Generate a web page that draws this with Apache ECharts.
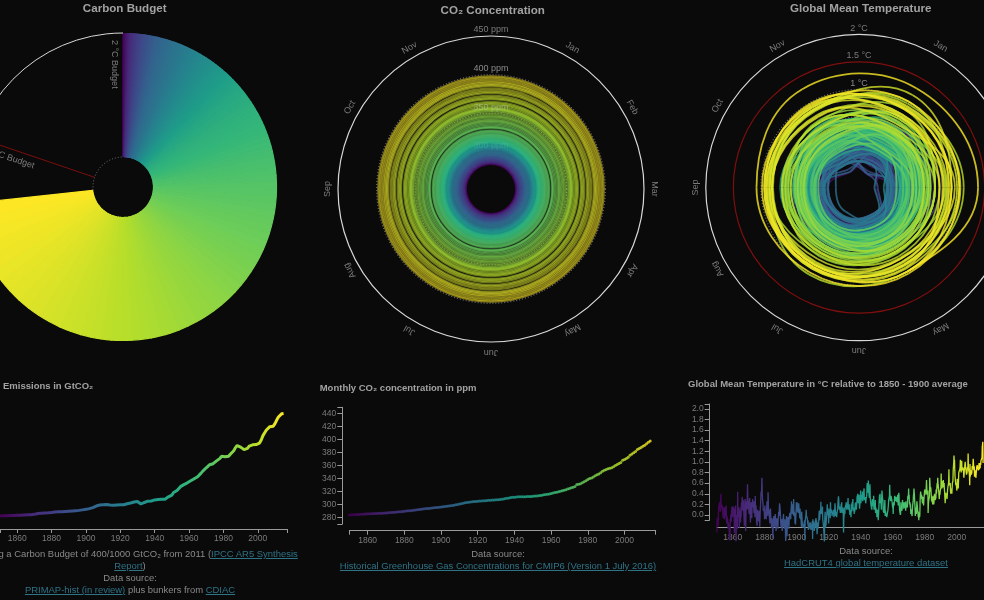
<!DOCTYPE html>
<html>
<head>
<meta charset="utf-8">
<title>Climate spirals</title>
<script src="https://cdn.jsdelivr.net/npm/echarts@6/dist/echarts.min.js"></script>
<style>
html, body { margin: 0; background: #0a0a0a; overflow: hidden; }
#chart { position: absolute; left: 0; top: 0; width: 984px; height: 600px; }
.caption { position: absolute; transform: translateX(-50%); white-space: nowrap; text-align: center;
  font: 9.46px/12px "Liberation Sans", Arial, sans-serif; color: #8a8a8a; }
.caption a { color: #2f7387; text-decoration: underline; }
</style>
</head>
<body>
<div id="chart"></div>
<div class="caption" style="left:130px;top:548px">Assuming a Carbon Budget of 400/1000 GtCO₂ from 2011 (<a>IPCC AR5 Synthesis</a><br><a>Report</a>)<br>Data source:<br><a>PRIMAP-hist (in review)</a> plus bunkers from <a>CDIAC</a></div>
<div class="caption" style="left:498px;top:548px">Data source:<br><a>Historical Greenhouse Gas Concentrations for CMIP6 (Version 1 July 2016)</a></div>
<div class="caption" style="left:866px;top:545px">Data source:<br><a>HadCRUT4 global temperature dataset</a></div>
<script>
const months = ['Jan', 'Feb', 'Mar', 'Apr', 'May', 'Jun', 'Jul', 'Aug', 'Sep', 'Oct', 'Nov'];
const viridis = ['#440154', '#482878', '#3e4989', '#31688e', '#26828e', '#1f9e89', '#35b779', '#6ece58', '#b5de2b', '#fde725'];

// Emissions in GtCO2, one value per year from 1850
const emissions = [
  .8, .8, .9, .9, .9, 1, 1, 1, 1, 1,
  1.05, 1.1, 1.1, 1.15, 1.2, 1.25, 1.25, 1.3, 1.3, 1.4,
  1.45, 1.6, 1.8, 1.9, 1.9, 1.95, 2, 2, 2.05, 2.1,
  2.2, 2.3, 2.4, 2.4, 2.5, 2.5, 2.5, 2.55, 2.6, 2.6,
  2.7, 2.8, 2.8, 2.8, 2.9, 3, 3, 3.1, 3.2, 3.3,
  3.4, 3.6, 3.7, 4, 4.1, 4.4, 4.7, 5.1, 5.1, 5.2,
  5.2, 5.3, 5.3, 5.4, 5.1, 5, 5, 5.2, 5.1, 5,
  5.2, 5, 5.2, 5.6, 5.6, 5.9, 5.9, 6.1, 6.3, 6.8,
  6.5, 5.9, 5.5, 5.7, 6.1, 6.4, 6.6, 6.8, 6.7, 7,
  7.1, 7.2, 7.3, 7.5, 7.4, 6.9, 7.4, 8, 8.3, 8.6,
  9, 10, 10.2, 10.8, 11.1, 12.3, 12.8, 13.1, 13.4, 13.8,
  14, 14.6, 15, 15.4, 15.8, 16.2, 16.9, 17.6, 18.4, 19.1,
  19.7, 20.4, 20.9, 21.2, 21.3, 21.4, 22.4, 23, 23.4, 24.2,
  24.3, 24, 23.7, 24.2, 25, 25.7, 26.4, 27.6, 28.4, 28.1,
  27.8, 27.4, 26.8, 26.9, 27.3, 28.2, 28.4, 28.7, 28.7, 28.8,
  29, 29.4, 30.6, 32.3, 33.4, 34.5, 35.2, 35.8, 36.3, 36,
  37, 38.4, 39.6, 40.3, 40.9, 41
];
const budget2C = 2715;
const budget15C = 2178;

// CO2 in ppm, one value per year from 1850
const co2 = [
  284.3, 284.5, 284.6, 284.7, 284.9, 285, 285.2, 285.4, 285.6, 285.7,
  285.9, 286, 286.2, 286.3, 286.5, 286.6, 286.7, 286.9, 287, 287.2,
  287.4, 287.6, 287.8, 288, 288.2, 288.5, 288.8, 289, 289.3, 289.6,
  289.9, 290.2, 290.5, 290.8, 291.1, 291.4, 291.8, 292.1, 292.5, 292.9,
  293.3, 293.6, 294, 294.3, 294.6, 294.9, 295.2, 295.5, 295.8, 296.1,
  296.4, 296.7, 297.1, 297.5, 297.9, 298.4, 298.8, 299.3, 299.8, 300.4,
  301, 301.6, 302.2, 302.8, 303.3, 303.8, 304.2, 304.5, 304.8, 305.1,
  305.4, 305.6, 305.8, 306, 306.2, 306.5, 306.7, 306.9, 307.1, 307.3,
  307.5, 307.7, 308, 308.4, 308.9, 309.4, 309.9, 310.4, 310.9, 311.3,
  311.6, 311.9, 312.1, 312.3, 312.4, 312.4, 312.4, 312.5, 312.6, 312.7,
  312.9, 313.2, 313.5, 313.9, 314.3, 314.7, 315.1, 315.5, 316, 316.6,
  317.3, 318, 318.6, 319.3, 320, 320.7, 321.4, 322.2, 323, 324,
  325, 326, 327, 327.9, 331, 331.5, 332.2, 333.8, 335.4, 337,
  338.8, 340.1, 341.1, 342.7, 344.4, 345.9, 347.2, 349.1, 351.4, 352.9,
  354.2, 355.3, 356, 356.9, 358.5, 360.4, 362, 363.3, 364.8, 368.3,
  369.6, 371.2, 373, 376.2, 377.8, 379.7, 382, 385, 386.6, 388,
  389.8, 391.6, 393.8, 396, 398
];

// Temperature in °C: Jan, Mar, May, Jul, Sep, Nov of each year from 1850
const temperature = [
  -.33, -.05, -.1, -.12, -.06, -.2, .04, .18, .12, .2, .24, .14,
  .12, .06, .28, .4, .22, .24, .24, .14, .1, .18, .06, -.02,
  -.06, .12, .04, .14, .02, -.08, .08, .02, .15, -.02, .05, .18,
  -.1, -.16, -.02, -.14, -.06, -.12, -.26, -.14, -.24, -.18, -.22, -.46,
  -.22, -.48, -.08, -.14, -.04, .02, -.12, .06, .04, .16, -.02, .12,
  -.04, .1, .16, -.02, .12, -.1, -.34, .02, -.1, .1, .18, -.06,
  -.5, -.24, 0, -.06, -.12, -.26, .44, .08, .02, .12, -.04, .14,
  -.24, -.12, 0, .08, .02, -.14, .14, -.04, .18, .24, .18, .34,
  .3, .08, .12, .28, .16, .06, -.08, -.2, .12, .24, .3, .14,
  -.3, -.04, .26, .2, .14, .1, .32, .58, .34, .2, .12, .26,
  .1, .02, .26, .32, .14, 0, -.14, .22, .18, .24, .1, -.06,
  .2, .16, .3, .28, .22, .14, .18, .04, .12, .26, .1, -.04,
  .36, .06, .1, .18, .02, -.14, -.14, -.2, .02, .1, -.02, -.1,
  -.02, -.12, .04, .08, .02, -.22, -.04, .12, .2, .34, .44, .36,
  .5, .7, .42, .3, .26, .2, .08, .06, .12, .1, .04, -.08,
  .18, .04, .06, .02, .04, -.08, .06, .14, .26, .16, .08, -.02,
  .43, .24, .02, .04, .1, -.04, -.08, -.16, .02, .12, -.02, 0,
  -.12, -.24, -.18, -.06, -.08, -.26, -.44, -.18, -.12, -.06, -.02, -.1,
  -.22, -.14, -.06, .02, -.08, -.12, -.3, -.18, -.14, -.06, -.14, -.08,
  -.2, -.26, -.08, 0, .06, -.02, .06, .22, .18, .12, .06, -.1,
  -.08, -.24, -.12, -.08, -.14, -.3, -.12, -.2, -.08, -.04, .02, -.22,
  -.18, -.26, -.14, -.08, -.06, -.3, -.49, -.44, -.16, -.02, -.06, -.4,
  -.24, -.08, -.1, -.04, -.02, -.1, -.26, -.12, -.02, 0, .04, .02,
  .02, -.08, .08, .14, .26, .12, .1, .02, .16, .2, .1, 0,
  .3, -.02, -.04, .06, .02, -.16, 0, -.18, -.04, .04, .24, .22,
  .06, .24, .16, .18, .14, .04, .14, .22, .12, .1, .02, -.06,
  .12, -.02, -.08, -.04, -.12, -.22, .06, -.04, -.14, -.16, -.2, -.24,
  -.24, -.26, -.2, -.18, -.22, -.1, -.48, -.12, -.14, -.04, 0, .1,
  -.02, -.04, -.02, -.06, -.08, -.18, -.1, -.28, -.24, -.2, -.22, -.24,
  -.14, -.26, -.18, -.14, -.16, -.28, -.3, -.2, -.24, -.18, -.12, -.45,
  -.08, -.16, -.14, -.12, -.16, -.3, -.32, -.28, -.22, -.18, -.1, -.12,
  -.06, -.24, -.1, -.28, -.36, -.22, -.14, -.26, -.2, -.16, -.12, .02,
  .08, -.1, -.04, .02, .1, .04, .25, .02, .12, .1, .06, .02,
  .16, -.08, -.12, -.16, -.14, -.3, -.3, -.5, -.2, -.02, .06, -.24,
  -.12, -.2, -.12, -.06, 0, .02, .2, 0, .06, .02, .08, -.16,
  .12, .1, -.02, .02, .06, -.06, .24, .04, .06, .1, .12, .06,
  -.02, .02, 0, .06, .02, .1, .04, -.04, -.02, .02, .12, .22,
  .1, -.02, .06, .02, .06, -.04, -.06, .06, .08, .12, .14, .3,
  .35, .28, .14, .1, .16, .14, .1, .04, .06, .12, .2, .06,
  .24, .04, .06, .1, .08, .14, 0, -.33, -.06, -.02, .08, .14,
  .02, .14, .12, .14, .2, .24, .22, .1, .14, .2, .16, .18,
  .32, .1, .18, .12, .2, .1, .12, 0, .04, .1, .02, -.04,
  .2, .06, .08, .24, .16, .22, .3, .08, .1, .14, .12, .02,
  .12, .06, .14, .22, .18, .24, .14, .1, .18, .26, .36, .3,
  .4, .34, .22, .24, .34, .38, .24, .12, .2, .22, .28, .46,
  .22, .32, .3, .28, .38, .3, .44, .26, .34, .38, .3, .46,
  .5, .28, .32, .3, .28, .34, .22, .28, .26, .34, .38, .56,
  .6, .46, .42, .5, .65, .48, .46, .36, .32, .36, .58, .34,
  .36, .22, .18, .16, .18, .1, .24, .3, .2, .26, .22, .16,
  .36, .1, .22, .18, .2, .1, .28, .04, .14, .12, .16, .06,
  -.04, .04, .1, .12, .06, -.1, -.08, .08, .22, .3, .38, .32,
  .4, .22, .2, .26, .28, .1, .34, .46, .38, .32, .3, .26,
  .06, .12, .04, .08, .06, .18, .28, -.02, .08, .1, .06, -.02,
  .02, -.04, -.02, .02, 0, .08, .1, .18, .28, .28, .32, .36,
  .57, .38, .3, .26, .28, .36, .38, .34, .28, .24, .22, .14,
  .22, .02, .2, .22, .24, .18, .32, .36, .34, .3, .28, .26,
  .34, .32, .28, .24, .26, .3, .38, .36, .18, .28, .42, .36,
  .18, .1, .06, .08, 0, .04, .24, .12, .12, .08, .1, .12,
  .28, .22, .16, .24, .2, .12, .2, .14, .24, .22, .18, .22,
  .08, .26, .14, .16, .18, .2, .14, .26, .36, .3, .36, .5,
  .32, .38, .2, .22, .24, .14, .2, .02, .1, .06, .08, .08,
  -.02, .1, .18, .22, .26, .36, .4, .5, .42, .34, .32, .12,
  -.02, .08, .1, .14, .02, .04, .26, .2, .2, .08, .04, -.04,
  .06, -.1, -.02, .02, -.04, 0, .26, .38, .44, .4, .34, .38,
  .3, .36, .26, .22, .2, .34, .3, .18, .28, .28, .4, .48,
  .42, .4, .48, .44, .38, .54, .66, .52, .4, .46, .38, .46,
  .04, .2, .26, .28, .32, .36, .7, .6, .48, .44, .52, .5,
  .36, .26, .34, .24, .28, .2, .36, .2, .26, .2, .24, .22,
  .4, .32, .28, .3, .28, .32, .48, .4, .44, .54, .6, .5,
  .7, .6, .56, .5, .5, .36, .3, .44, .38, .44, .46, .42,
  .52, .78, .56, .54, .5, .64, .62, .52, .6, .66, .56, .52,
  .6, .48, .42, .3, .22, .24, .42, .4, .38, .36, .34, .3,
  .38, .48, .52, .5, .54, .62, .86, .6, .56, .58, .56, .6,
  .44, .4, .5, .48, .46, .4, .4, .6, .58, .64, .84, .84,
  .98, 1.12, .98, 1.04, .84, .72, .74, .6, .56, .6, .62, .6,
  .46, .68, .66, .6, .62, .5, .66, .8, .78, .8, .78, .86,
  .92, 1.04, .86, .84, .8, .82, 1.02, .84, .86, .84, .9, .84,
  .88, .9, .7, .72, .86, .9, .9, 1, .92, .92, .94, .9,
  .76, .82, .78, .9, .88, .86, 1.16, .9, .84, .82, .8, .74,
  .56, .96, .72, .78, .8, .84, .76, .74, .8, .92, .9, .86,
  .94, 1.06, .98, .9, .84, .92, .72, .76, .72, .84, .8, .7,
  .7, .68, .9, .88, .94, .96, .88, .86, .84, .84, .92, .98,
  .86, .9, .98, .88, .98, .94, 1.02, 1.04, 1.02, 1, 1.08, 1.28,
  1.3, 1.38, .98
];

const firstYear = 1850;
const co2Rings = [450, 400, 350, 300];
const co2RingLabels = ['450 ppm', '400 ppm', '350 ppm', '300 ppm'];
const tempRings = [2, 1.5, 1, .5];
const tempRingLabels = ['2 °C', '1.5 °C', '1 °C'];
const yearTicks = [1860, 1880, 1900, 1920, 1940, 1960, 1980, 2000];
const co2Ticks = [280, 300, 320, 340, 360, 380, 400, 420, 440];
const tempTicks = [0, .2, .4, .6, .8, 1, 1.2, 1.4, 1.6, 1.8, 2];

const FONT = '"Liberation Sans", Arial, sans-serif';
const WHITE = '#d8d8d8';
const RED = '#7d0f0f';
const GREY = '#7c7c7c';
const perYear = 6;

// Color for a position between 0 and 1 of the period
function colorAt(t) {
    return echarts.color.lerp(Math.min(1, Math.max(0, t)), viridis);
}

// One ring per value, drawn with the radius axis of the polar
function ringSeries(polarIndex, values, strokes, dashes, z) {
    return {
        type: 'custom',
        coordinateSystem: 'polar',
        polarIndex: polarIndex,
        silent: true,
        z: z,
        encode: { radius: 0, angle: 1 },
        data: values.map(v => [v, 0]),
        renderItem: function (params, api) {
            const c = api.coord([api.value(0), 0]);
            return {
                type: 'circle',
                shape: { cx: params.coordSys.cx, cy: params.coordSys.cy, r: c[2] },
                style: { fill: 'none', stroke: strokes[params.dataIndex], lineWidth: 1.2, lineDash: dashes[params.dataIndex] }
            };
        }
    };
}

// Labels sitting just above the rings, at the top of the circle
function ringLabelSeries(polarIndex, values, labels, fills) {
    return {
        type: 'custom',
        coordinateSystem: 'polar',
        polarIndex: polarIndex,
        silent: true,
        z: 6,
        encode: { radius: 0, angle: 1 },
        data: values.map(v => [v, 0]),
        renderItem: function (params, api) {
            const c = api.coord([api.value(0), 0]);
            return {
                type: 'text',
                x: c[0],
                y: c[1] - 6,
                style: { text: labels[params.dataIndex], fill: fills[params.dataIndex], font: '9px ' + FONT, align: 'center', verticalAlign: 'middle' }
            };
        }
    };
}

// Month names following the outside of the circle
function monthSeries(polarIndex, outer) {
    return {
        type: 'custom',
        coordinateSystem: 'polar',
        polarIndex: polarIndex,
        silent: true,
        z: 6,
        encode: { radius: 0, angle: 1 },
        data: months.map((m, i) => [outer, 30 * (i + 1)]),
        renderItem: function (params, api) {
            const angle = api.value(1);
            const c = api.coord([api.value(0), angle]);
            const k = (c[2] + 10) / c[2];
            return {
                type: 'text',
                x: params.coordSys.cx + (c[0] - params.coordSys.cx) * k,
                y: params.coordSys.cy + (c[1] - params.coordSys.cy) * k,
                rotation: -angle * Math.PI / 180,
                style: { text: months[params.dataIndex], fill: GREY, font: '9px ' + FONT, align: 'center', verticalAlign: 'middle' }
            };
        }
    };
}

const series = [];

// 1. Carbon budget
const emitted = emissions.reduce((a, b) => a + b, 0);
const slices = emissions.map((v, i) => {
    const color = colorAt(i / (emissions.length - 1));
    return { value: v, itemStyle: { color: color, borderColor: color, borderWidth: 1.2 } };
});
slices.push({ value: budget2C - emitted, itemStyle: { color: 'transparent' } });
series.push({
    type: 'pie',
    center: [123, 187],
    radius: [30.5, 153.5],
    startAngle: 90,
    silent: true,
    label: { show: false },
    labelLine: { show: false },
    data: slices
});

// Budget arcs left of the wedge: outer limit and dotted inner limit
series.push({
    type: 'custom',
    coordinateSystem: 'polar',
    polarIndex: 0,
    silent: true,
    z: 3,
    encode: { radius: 0, angle: 1 },
    data: [[1, emitted], [0, emitted]],
    renderItem: function (params, api) {
        const row = params.dataIndex === 0 ? [WHITE, null] : ['#777', [1, 2]];
        const c = api.coord([api.value(0), emitted]);
        return {
            type: 'arc',
            shape: {
                cx: params.coordSys.cx, cy: params.coordSys.cy, r: c[2],
                startAngle: Math.atan2(c[1] - params.coordSys.cy, c[0] - params.coordSys.cx),
                endAngle: -Math.PI / 2,
                clockwise: true
            },
            style: { fill: 'none', stroke: row[0], lineWidth: 1, lineDash: row[1] }
        };
    }
});

// Line and text of the 1.5 °C budget, text of the 2 °C budget
series.push({
    type: 'custom',
    coordinateSystem: 'polar',
    polarIndex: 0,
    silent: true,
    z: 3,
    encode: { radius: 0, angle: 1 },
    data: [[1, budget15C], [1, budget2C]],
    renderItem: function (params, api) {
        const budget = api.value(1);
        const inner = api.coord([0, budget]);
        const outer = api.coord([1, budget]);
        const cx = params.coordSys.cx, cy = params.coordSys.cy;
        const ux = (outer[0] - cx) / outer[2], uy = (outer[1] - cy) / outer[2];
        // Text starts near the outer end, beside the line and reads toward the center
        const children = [{
            type: 'text',
            x: cx + ux * 147 + uy * 9,
            y: cy + uy * 147 - ux * 9,
            rotation: -Math.atan2(-uy, -ux),
            style: { text: params.dataIndex === 0 ? '1.5 °C Budget' : '2 °C Budget', fill: GREY, font: '9px ' + FONT, align: 'left', verticalAlign: 'middle' }
        }];
        if (params.dataIndex === 0) {
            children.push({
                type: 'line',
                shape: { x1: inner[0], y1: inner[1], x2: outer[0], y2: outer[1] },
                style: { stroke: RED, lineWidth: 1 }
            });
        }
        return { type: 'group', children: children };
    }
});

// 2. CO2 rings, one per year
series.push(ringSeries(1, co2Rings, [WHITE, '#6e6e6e', '#6e6e6e', '#6e6e6e'], [null, [1, 2], [1, 2], [1, 2]], 2));
series.push({
    type: 'custom',
    coordinateSystem: 'polar',
    polarIndex: 1,
    silent: true,
    z: 4,
    encode: { radius: 0, angle: 1 },
    data: co2.map(v => [v, 0]),
    renderItem: function (params, api) {
        const c = api.coord([api.value(0), 0]);
        return {
            type: 'circle',
            shape: { cx: params.coordSys.cx, cy: params.coordSys.cy, r: c[2] },
            style: { fill: 'none', stroke: colorAt(params.dataIndex / (co2.length - 1)), lineWidth: 2, opacity: .5 }
        };
    }
});
series.push(ringLabelSeries(1, co2Rings, co2RingLabels, [GREY, '#8a8a8a', 'rgba(190,200,170,.55)', 'rgba(120,190,190,.3)']));
series.push(monthSeries(1, 450));

// 3. Temperature spiral, each point joined to the next one along the circle
series.push(ringSeries(2, tempRings, [WHITE, RED, '#6e6e6e', '#6e6e6e'], [null, null, [1, 2], [1, 2]], 2));
const tempYears = Math.ceil(temperature.length / perYear);
const tempAngles = temperature.map((v, i) => (30 + 60 * (i % perYear)) % 360);
series.push({
    type: 'custom',
    coordinateSystem: 'polar',
    polarIndex: 2,
    silent: true,
    z: 4,
    encode: { radius: 0, angle: 1 },
    data: temperature.map((v, i) => [v, tempAngles[i]]),
    renderItem: function (params, api) {
        const i = params.dataIndex;
        if (i === temperature.length - 1) return null;
        const cx = params.coordSys.cx, cy = params.coordSys.cy;
        const a = api.coord([temperature[i], tempAngles[i]]);
        const b = api.coord([temperature[i + 1], tempAngles[i + 1]]);
        // handle length of a 60 degree arc
        const h = .357;
        return {
            type: 'bezierCurve',
            shape: {
                x1: a[0], y1: a[1], x2: b[0], y2: b[1],
                cpx1: a[0] - (a[1] - cy) * h, cpy1: a[1] + (a[0] - cx) * h,
                cpx2: b[0] + (b[1] - cy) * h, cpy2: b[1] - (b[0] - cx) * h
            },
            style: {
                fill: 'none',
                stroke: colorAt(Math.floor(i / perYear) / (tempYears - 1)),
                lineWidth: 1.8,
                opacity: .8
            }
        };
    }
});
series.push(ringLabelSeries(2, tempRings.slice(0, 3), tempRingLabels, [GREY, GREY, '#8a8a8a']));
series.push(monthSeries(2, 2));

// Bottom charts
const visualMaps = [];
function addBottom(s) {
    visualMaps.push({
        show: false,
        type: 'continuous',
        seriesIndex: series.length,
        dimension: 0,
        min: firstYear,
        max: 2016,
        inRange: { color: viridis }
    });
    series.push(s);
}
addBottom({
    type: 'line',
    xAxisIndex: 0,
    yAxisIndex: 0,
    silent: true,
    showSymbol: false,
    lineStyle: { width: 3 },
    data: emissions.map((v, i) => [firstYear + i, v])
});
addBottom({
    type: 'scatter',
    xAxisIndex: 1,
    yAxisIndex: 1,
    silent: true,
    symbolSize: 3,
    data: co2.map((v, i) => [firstYear + i, v])
});
addBottom({
    type: 'line',
    xAxisIndex: 2,
    yAxisIndex: 2,
    silent: true,
    clip: false,
    showSymbol: false,
    lineStyle: { width: 1.3 },
    data: temperature.map((v, i) => [firstYear + (i + .5) / perYear, v])
});

function xAxisFor(gridIndex, offset, ticks) {
    return {
        type: 'value',
        gridIndex: gridIndex,
        min: firstYear,
        max: 2017,
        offset: offset,
        axisLine: { onZero: false, lineStyle: { color: '#9a9a9a', width: 1 } },
        axisTick: { show: ticks, length: 4, customValues: [firstYear].concat(yearTicks, [2017]), lineStyle: { color: '#9a9a9a' } },
        axisLabel: { customValues: yearTicks, color: GREY, fontSize: 8.5, fontFamily: 'Liberation Sans', margin: 5, formatter: v => String(v) },
        splitLine: { show: false }
    };
}

function yAxisFor(gridIndex, min, max, ticks, show, digits) {
    return {
        type: 'value',
        gridIndex: gridIndex,
        show: show,
        min: min,
        max: max,
        offset: 7,
        axisLine: { show: true, onZero: false, lineStyle: { color: '#9a9a9a', width: 1 } },
        axisTick: { show: true, length: 5, customValues: [min].concat(ticks, [max]), lineStyle: { color: '#9a9a9a' } },
        axisLabel: { customValues: ticks, color: GREY, fontSize: 8.5, fontFamily: 'Liberation Sans', margin: 6, formatter: v => v.toFixed(digits) },
        splitLine: { show: false }
    };
}

function titleFor(text, x, y, size, align) {
    return {
        text: text,
        left: x,
        top: y,
        padding: 0,
        textAlign: align,
        textVerticalAlign: 'middle',
        textStyle: { color: '#a2a2a2', fontSize: size, fontWeight: 'bold', fontFamily: 'Liberation Sans' }
    };
}

const chart = echarts.init(document.getElementById('chart'), null, { renderer: 'canvas' });
chart.setOption({
    backgroundColor: 'transparent',
    animation: false,
    title: [
        titleFor('Carbon Budget', 124.7, 8.7, 11.6, 'center'),
        titleFor('CO₂ Concentration', 492.7, 10.5, 11.6, 'center'),
        titleFor('Global Mean Temperature', 860.7, 9, 11.6, 'center'),
        titleFor('Emissions in GtCO₂', 3, 386.7, 9.5, 'left'),
        titleFor('Monthly CO₂ concentration in ppm', 319.7, 388, 9.5, 'left'),
        titleFor('Global Mean Temperature in °C relative to 1850 - 1900 average', 688, 384.7, 9.5, 'left')
    ],
    polar: [
        { center: [123, 187], radius: [30, 154] },
        { center: [491, 189], radius: [0, 153] },
        { center: [859, 187.5], radius: [0, 153.2] }
    ],
    angleAxis: [
        { polarIndex: 0, show: false, min: 0, max: budget2C, startAngle: 90 },
        { polarIndex: 1, show: false, min: 0, max: 360, startAngle: 90 },
        { polarIndex: 2, show: false, min: 0, max: 360, startAngle: 90 }
    ],
    radiusAxis: [
        { polarIndex: 0, show: false, min: 0, max: 1 },
        { polarIndex: 1, show: false, min: 252, max: 450 },
        { polarIndex: 2, show: false, min: -.78, max: 2 }
    ],
    grid: [
        { left: -20, top: 404, width: 307, height: 125 },
        { left: 349.3, top: 407.3, width: 306.4, height: 116.7 },
        { left: 716.7, top: 404, width: 306, height: 116 }
    ],
    xAxis: [xAxisFor(0, 0, true), xAxisFor(1, 6.7, true), xAxisFor(2, 7.7, false)],
    yAxis: [
        yAxisFor(0, -4.3, 44.7, [], false, 0),
        yAxisFor(1, 270.3, 449.8, co2Ticks, true, 0),
        yAxisFor(2, -.094, 2.09, tempTicks, true, 1)
    ],
    visualMap: visualMaps,
    series: series
});
</script>
</body>
</html>
